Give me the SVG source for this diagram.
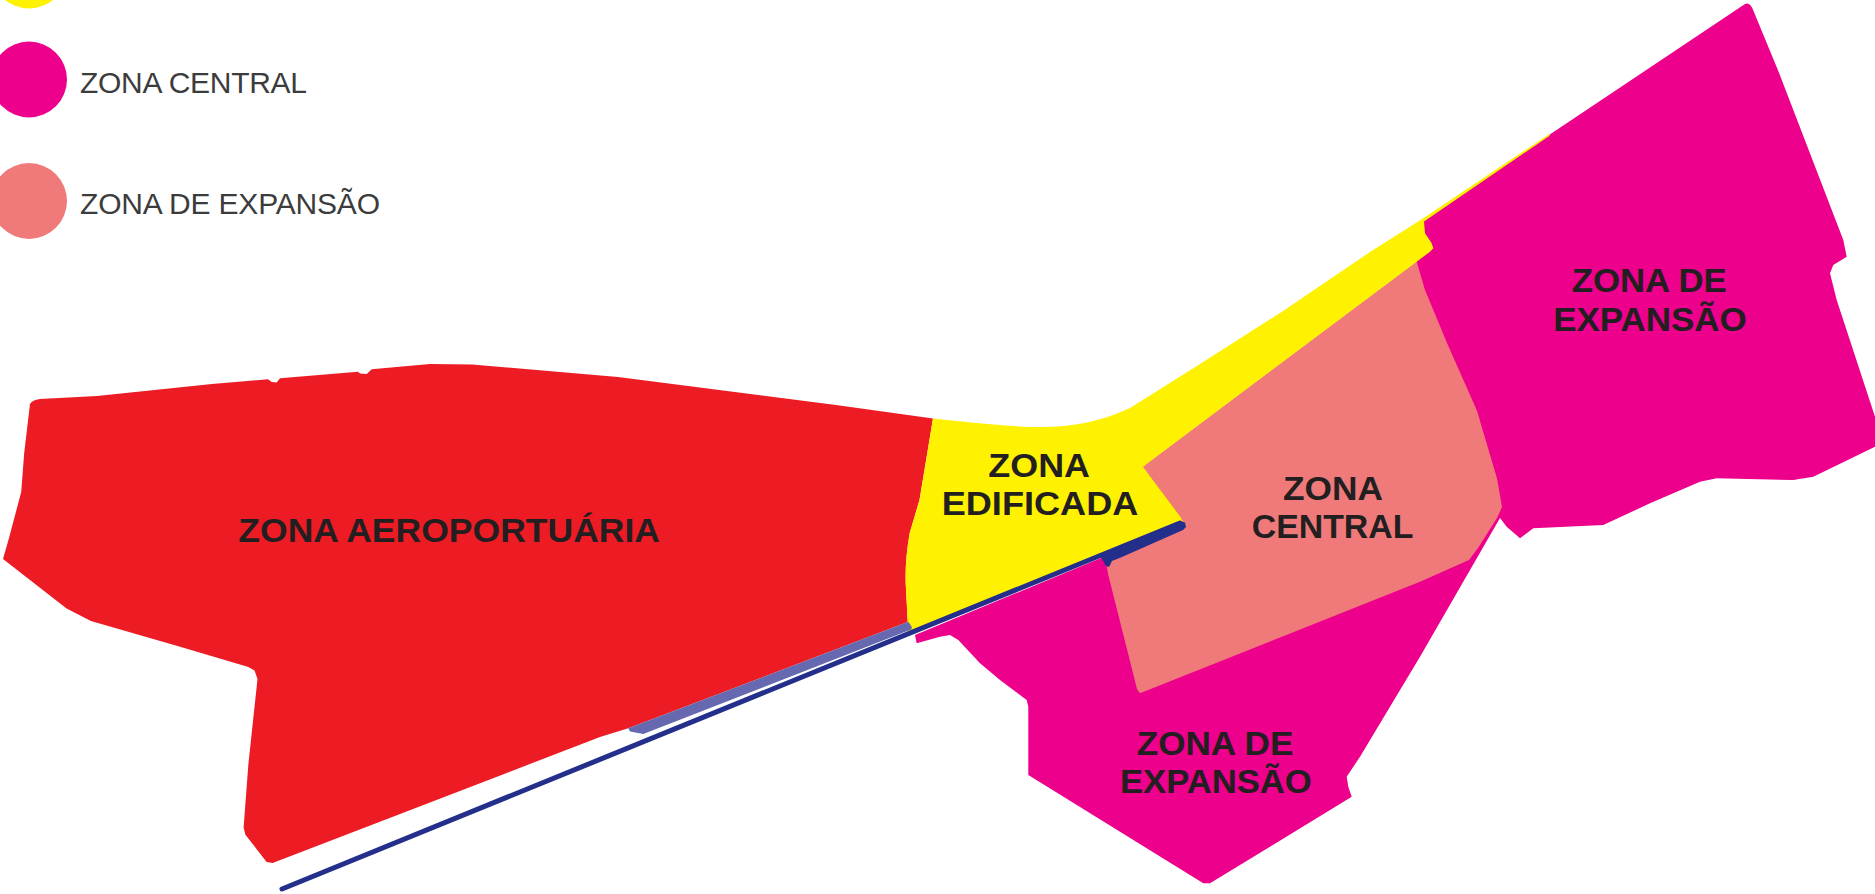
<svg xmlns="http://www.w3.org/2000/svg" width="1875" height="894" viewBox="0 0 1875 894">
<style>
.leg{font-family:"Liberation Sans","Lato",sans-serif;font-size:30px;fill:#3c3c3c;font-weight:400}
.lbl{font-family:"Liberation Sans","Lato",sans-serif;font-size:32.5px;fill:#231f20;font-weight:700}
.red{fill:#ed1c24}
.yel{fill:#fff200}
.mag{fill:#ec008c}
.sal{fill:#f07a7a}
</style>
<rect x="0" y="0" width="1875" height="894" fill="#ffffff"/>
<g id="legend">
  <g id="legend-edificada"><circle class="yel" cx="29" cy="-29.5" r="38"/></g>
  <g id="legend-central"><circle class="mag" cx="29" cy="79.5" r="38"/><text class="leg" x="80" y="93" textLength="227">ZONA CENTRAL</text></g>
  <g id="legend-expansao"><circle class="sal" cx="29" cy="201" r="38"/><text class="leg" x="80" y="214" textLength="300">ZONA DE EXPANSÃO</text></g>
</g>
<g id="zona-aeroportuaria">
  <path class="red" d="M30,404 Q32,400 40,399 L97,396 L212,384 L268,379.3 L271.7,382 L276.7,382.5 L280,378.3 L358,371.7 L360,373.5 L366.7,374 L371.7,369.3 L430,364 L472,364.5 L618,377 L836,405 L933,418.4 L919.5,500 L909.7,533 Q905,560 905.7,583 L907.7,622 L628.3,728.3 L600,737 L272.6,863 L266.6,862 L245.4,834.7 L243.6,827.6 L248.4,764 L257.5,679 L254.5,670.4 L248.4,667 L181.8,647.3 L90.9,621 L66.6,608.6 L3,559 L9,538 L21.2,492 L24.2,453 Z"/>
  <text class="lbl" x="238.3" y="541.7" textLength="421.7" lengthAdjust="spacingAndGlyphs">ZONA AEROPORTUÁRIA</text>
</g>
<g id="zona-expansao">
  <path class="mag" d="M1416.7,261.7 L1421.7,220 L1745,4 Q1750,1.5 1753.4,10.7 L1778.5,71.4 L1843.3,240 L1846.7,256.7 L1833.3,265 L1830,273.3 L1836.7,300 L1875,416.7 L1875,446.7 L1813.3,476.7 L1793.3,480 L1716.7,478.3 L1700,481.7 L1650,503.3 L1603.3,525 L1533.3,528.3 L1520,538.3 L1506.7,526.7 L1500,518 L1420,656.7 L1360,756.7 L1346.7,776.7 L1348.3,786.7 L1351.7,796.7 L1210,883.3 L1203.3,883.3 L1028.3,775 L1028.3,706.7 L1026.7,700 L1000,680 L980,663.3 L958.3,640 L950,635 L940,636.7 L916.7,643.3 L915,635 L1183,524 L1143,466.7 Z"/>
  <text class="lbl" x="1571.7" y="291.7" textLength="155" lengthAdjust="spacingAndGlyphs">ZONA DE</text>
  <text class="lbl" x="1553.3" y="330.7" textLength="193.3" lengthAdjust="spacingAndGlyphs">EXPANSÃO</text>
  <text class="lbl" x="1136.7" y="755" textLength="156.7" lengthAdjust="spacingAndGlyphs">ZONA DE</text>
  <text class="lbl" x="1120" y="793.3" textLength="191.7" lengthAdjust="spacingAndGlyphs">EXPANSÃO</text>
</g>
<g id="zona-central">
  <path class="sal" d="M1143,466.7 L1416.7,261.7 L1425,290 L1447,343 L1477,410.7 L1497,478.6 L1502,507 L1497,518 L1478,548 L1469,560 L1420,581.7 L1140,693.3 L1137,689 L1108.3,575 L1105,556.7 L1183,524 L1180.5,516.7 Z"/>
  <text class="lbl" x="1283" y="500" textLength="100" lengthAdjust="spacingAndGlyphs">ZONA</text>
  <text class="lbl" x="1251.7" y="538.3" textLength="161.7" lengthAdjust="spacingAndGlyphs">CENTRAL</text>
</g>
<g id="zona-edificada">
  <path class="yel" d="M933,418.4 C960,421 990,425 1030,427 C1070,428 1100,422 1130,408 L1200,364 L1280,313 L1370,252 L1421.7,219.3 L1549,134.2 L1550,135.4 L1424,221.4 L1425,233.3 L1431.7,243.3 L1433.3,248.3 L1430,251.7 L1416.7,261.7 L1143,466.7 L1180.5,516.7 L1183,522 L908,634 L907.7,622 L905.7,583 Q905,560 909.7,533 L919.5,500 Z"/>
  <text class="lbl" x="988.3" y="476.7" textLength="101.7" lengthAdjust="spacingAndGlyphs">ZONA</text>
  <text class="lbl" x="941.7" y="515" textLength="196.7" lengthAdjust="spacingAndGlyphs">EDIFICADA</text>
</g>
<g id="connectors">
  <path d="M628.3,728.3 L908.3,621.7 L911.7,626.7 L911.7,629.3 L643.3,734 L630,731.5 Z" fill="#6668b0"/>
  <line x1="282" y1="889" x2="1180" y2="523" stroke="#232f8a" stroke-width="5" stroke-linecap="round"/>
  <path d="M1100,555.5 L1180,521 L1185,522.5 L1186,527 L1183,530 L1122,557 L1112,561 L1109,567 L1106,566 Z" fill="#232f8a"/>
</g>
</svg>
